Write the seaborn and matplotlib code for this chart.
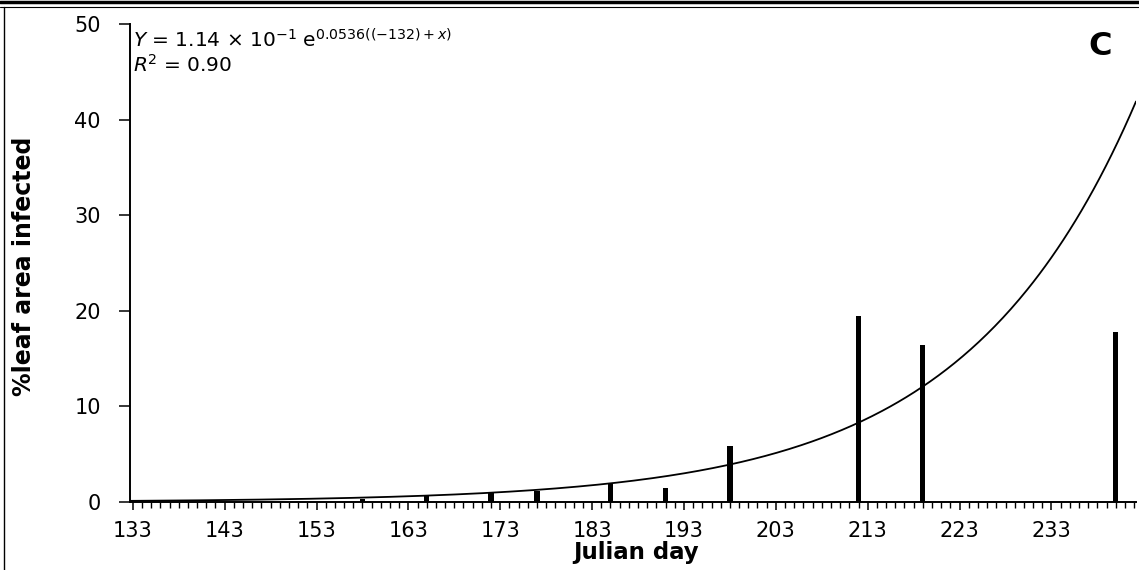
import numpy as np
import pandas as pd
import matplotlib
matplotlib.use("Agg")
import matplotlib.pyplot as plt
from matplotlib.lines import Line2D
from matplotlib.ticker import FixedLocator, MultipleLocator
import seaborn as sns

# Observed leaf infection on each sampling date
julian_day = [158, 165, 172, 177, 185, 191, 198, 212, 219, 240]
pct_infected = [0.35, 0.6, 1.0, 1.1, 1.9, 1.5, 5.9, 19.5, 16.4, 17.8]

# Fitted exponential model: Y = a * exp(b * ((-x0) + x))
fit_mantissa = 1.14
fit_exponent10 = -1
fit_b = 0.0536
fit_x0 = 132
fit_r2 = 0.90

x_ticks = [133, 143, 153, 163, 173, 183, 193, 203, 213, 223, 233]
y_ticks = [0, 10, 20, 30, 40, 50]
x_range = (132.7, 242.2)
y_range = (0, 50)

sns.set_style("ticks")
plt.rcParams["font.family"] = ["DejaVu Sans"]
plt.rcParams["mathtext.fontset"] = "dejavusans"
for key in ("text.color", "axes.labelcolor", "xtick.color", "ytick.color",
            "axes.edgecolor"):
    plt.rcParams[key] = "black"

W, H = 1139, 570
fig = plt.figure(figsize=(W / 100, H / 100), dpi=100)
ax = fig.add_axes([130 / W, 1 - 502 / H, (1136 - 130) / W, (502 - 24) / H])

df = pd.DataFrame({"day": julian_day, "pct": pct_infected})
sns.barplot(data=df, x="day", y="pct", native_scale=True, width=0.115,
            color="black", saturation=1, edgecolor="black", linewidth=0,
            errorbar=None, ax=ax)

fit_a = fit_mantissa * 10.0 ** fit_exponent10
xs = np.linspace(x_range[0], x_range[1], 500)
ys = fit_a * np.exp(fit_b * (xs - fit_x0))
sns.lineplot(x=xs, y=ys, color="black", linewidth=1.3, ax=ax)

ax.set_xlim(*x_range)
ax.set_ylim(*y_range)
ax.xaxis.set_major_locator(FixedLocator(x_ticks))
ax.xaxis.set_minor_locator(MultipleLocator(1))
ax.set_xticklabels([str(t) for t in x_ticks])
ax.yaxis.set_major_locator(FixedLocator(y_ticks))
ax.set_yticklabels([str(t) for t in y_ticks])

sns.despine(ax=ax)
for side in ("left", "bottom"):
    ax.spines[side].set_linewidth(1.4)

ax.tick_params(axis="x", which="major", length=6, width=1.1, direction="out",
               labelsize=15, pad=8)
ax.tick_params(axis="x", which="minor", length=4.5, width=1.0, direction="out")
ax.tick_params(axis="y", which="major", length=8, width=1.1, direction="out",
               labelsize=15, pad=13)

ax.set_xlabel("Julian day", fontsize=16.5, fontweight="bold")
ax.xaxis.label.set_va("center")
ax.xaxis.set_label_coords((636 - 130) / 1006, (502 - 553) / 478)
ax.set_ylabel("%leaf area infected", fontsize=17, fontweight="bold")
ax.yaxis.label.set_va("center")
ax.yaxis.set_label_coords((24 - 130) / 1006, (502 - 266) / 478)

equation = (r"$\mathit{Y}$ = " + f"{fit_mantissa:.2f}" + r" × 10$^{" + f"{fit_exponent10}"
            + r"}$ e$^{" + f"{fit_b}" + r"((-" + f"{fit_x0}" + r") + \mathit{x})}$")
ax.text(0.003, (502 - 48) / 478, equation, transform=ax.transAxes, ha="left",
        va="baseline", fontsize=14.5)
ax.text(0.003, (502 - 72) / 478, r"$\mathit{R}$$^{2}$ = " + f"{fit_r2:.2f}",
        transform=ax.transAxes, ha="left", va="baseline", fontsize=14.5)
ax.text(0.964, 0.952, "C", transform=ax.transAxes, ha="center", va="center",
        fontsize=23, fontweight="bold")

# Panel frame lines
fig.add_artist(Line2D([0, 1], [1 - 1.5 / H, 1 - 1.5 / H], transform=fig.transFigure,
                      color="black", linewidth=2.5))
fig.add_artist(Line2D([0, 1], [1 - 7 / H, 1 - 7 / H], transform=fig.transFigure,
                      color="black", linewidth=0.8))
fig.add_artist(Line2D([4 / W, 4 / W], [0, 1 - 7 / H], transform=fig.transFigure,
                      color="black", linewidth=1.0))

fig.savefig("out.png", dpi=100)
